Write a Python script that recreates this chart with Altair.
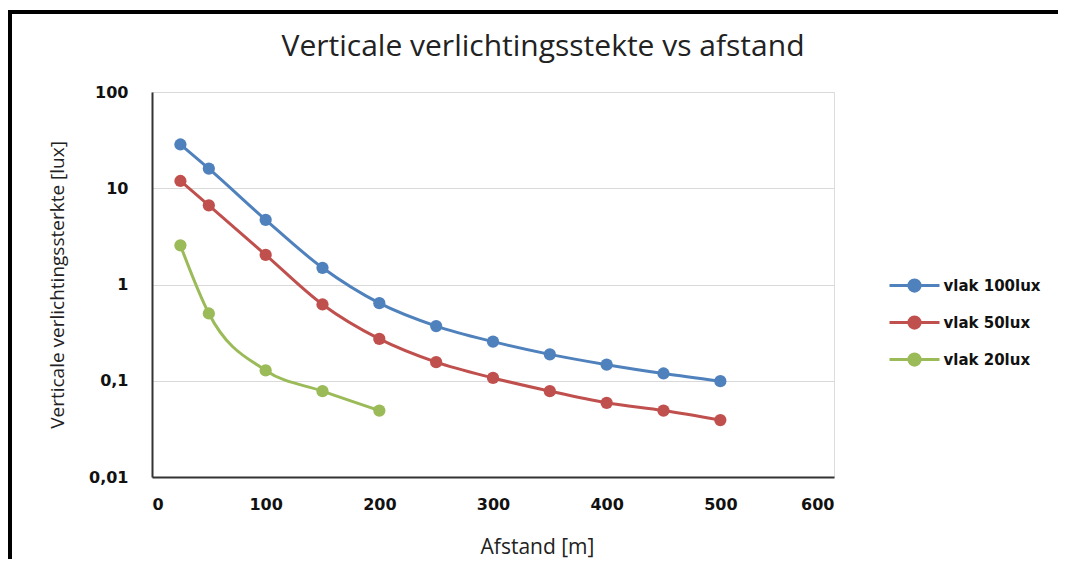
import altair as alt
import pandas as pd

# --- data ---
x_100 = [25, 50, 100, 150, 200, 250, 300, 350, 400, 450, 500]
y_100 = [28.5, 16.0, 4.7, 1.49, 0.64, 0.37, 0.255, 0.188, 0.147, 0.119, 0.099]

x_50 = [25, 50, 100, 150, 200, 250, 300, 350, 400, 450, 500]
y_50 = [11.9, 6.65, 2.03, 0.62, 0.272, 0.156, 0.107, 0.078, 0.059, 0.049, 0.039]

x_20 = [25, 50, 100, 150, 200]
y_20 = [2.55, 0.5, 0.128, 0.078, 0.049]

series_names = ["vlak 100lux", "vlak 50lux", "vlak 20lux"]
series_colors = ["#4F81BD", "#C0504D", "#9BBB59"]

x_ticks = [0, 100, 200, 300, 400, 500, 600]
y_ticks = [0.01, 0.1, 1, 10, 100]

rows = []
for name, xs, ys in zip(series_names, [x_100, x_50, x_20], [y_100, y_50, y_20]):
    for xv, yv in zip(xs, ys):
        rows.append({"serie": name, "afstand": xv, "E": yv})
df = pd.DataFrame(rows)

W, H = 682, 385

legend_path = "M-2,0H2M-0.45,0A0.45,0.45 0 1,1 0.45,0A0.45,0.45 0 1,1 -0.45,0Z"

x_enc = alt.X(
    "afstand:Q",
    scale=alt.Scale(domain=[0, 600], nice=False),
    axis=alt.Axis(
        values=x_ticks,
        title="Afstand [m]",
        grid=False,
        ticks=False,
        labelPadding=19,
        labelFont="DejaVu Sans",
        labelFontSize=16,
        labelFontWeight="bold",
        labelColor="#111111",
        domainColor="#333333",
        domainWidth=2,
        titleFont="Open Sans",
        titleFontSize=21,
        titleFontWeight="normal",
        titleColor="#222222",
        titleX=385,
        titleY=76,
        titleBaseline="alphabetic",
    ),
)
y_enc = alt.Y(
    "E:Q",
    scale=alt.Scale(type="log", domain=[0.01, 100], nice=False),
    axis=alt.Axis(
        values=y_ticks,
        labelExpr="replace(toString(datum.value), '.', ',')",
        title="Verticale verlichtingssterkte [lux]",
        grid=True,
        gridColor="#D9D9D9",
        gridWidth=1,
        ticks=False,
        labelPadding=24,
        labelFont="DejaVu Sans",
        labelFontSize=16,
        labelFontWeight="bold",
        labelColor="#111111",
        domainColor="#333333",
        domainWidth=2,
        titleFont="Open Sans",
        titleFontSize=19,
        titleFontWeight="normal",
        titleColor="#222222",
        titleX=-95,
        titleBaseline="middle",
    ),
)
color_enc = alt.Color(
    "serie:N",
    scale=alt.Scale(domain=series_names, range=series_colors),
    sort=series_names,
    legend=alt.Legend(
        title=None,
        orient="none",
        legendX=748.5,
        legendY=179.5,
        padding=0,
        symbolType=legend_path,
        symbolSize=625,
        symbolStrokeWidth=3,
        labelOffset=15,
        rowPadding=11,
        labelFont="DejaVu Sans",
        labelFontSize=15,
        labelFontWeight="bold",
        labelColor="#111111",
    ),
)

lines = alt.Chart(df).mark_line(interpolate="monotone", strokeWidth=3).encode(
    x=x_enc, y=y_enc, color=color_enc, detail="serie:N"
)
points = alt.Chart(df).mark_point(filled=True, size=150, opacity=1, shape="circle").encode(
    x=x_enc, y=y_enc, color=color_enc
)

frame = alt.Chart(df).mark_rect(fill=None, stroke="black", strokeWidth=4, clip=False).encode(
    x=alt.value(-142), x2=alt.value(1100), y=alt.value(-80), y2=alt.value(600)
)

chart = (
    alt.layer(frame, lines, points)
    .properties(
        width=W,
        height=H,
        title=alt.TitleParams(
            "Verticale verlichtingsstekte vs afstand",
            font="Open Sans",
            fontSize=30,
            fontWeight="normal",
            color="#222222",
            anchor="middle",
            frame="group",
            dx=50,
            offset=-76,
            baseline="alphabetic",
        ),
        autosize=alt.AutoSizeParams(type="none"),
        padding={"left": 144, "top": 84, "right": 224, "bottom": 82},
    )
    .configure_view(stroke="#111111", strokeWidth=2)
    .configure(background="white")
)

chart.save("out.html", embed_options={"renderer": "svg", "actions": False})
